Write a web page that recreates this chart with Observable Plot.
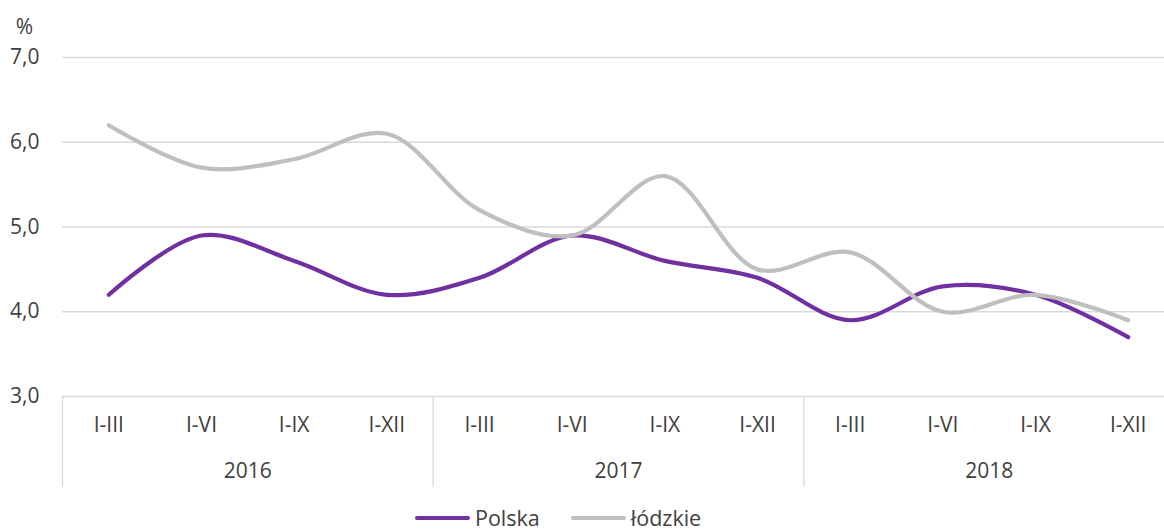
<!DOCTYPE html>
<html><head><meta charset="utf-8">
<script src="https://cdn.jsdelivr.net/npm/d3@7"></script>
<script src="https://cdn.jsdelivr.net/npm/@observablehq/plot@0.6"></script>
<style>
body{margin:0;background:#fff;font-family:"Open Sans",sans-serif;overflow:hidden;position:relative;width:1164px;height:531px}
#legend{position:absolute;left:415px;top:508px;display:flex;align-items:center;height:20px;line-height:20px;font-size:21.5px;color:#404040}
.sw{width:55px;height:4.5px;border-radius:2px;margin-right:5px}
.lab{margin-right:31px}
</style></head><body><div id="chart"></div><div id="legend"></div>
<script>
const years = ["2016", "2017", "2018"];
const quarters = ["I-III", "I-VI", "I-IX", "I-XII"];
const polska  = [4.2, 4.9, 4.6, 4.2, 4.4, 4.9, 4.6, 4.4, 3.9, 4.3, 4.2, 3.7];
const lodzkie = [6.2, 5.7, 5.8, 6.1, 5.2, 4.9, 5.6, 4.5, 4.7, 4.0, 4.2, 3.9];
const seriesNames = ["Polska", "łódzkie"];
const seriesColors = ["#7030A0", "#BFBFBF"];
const yTicks = [3, 4, 5, 6, 7];

const periods = years.flatMap((y, yi) => quarters.map((q, qi) => ({i: yi * quarters.length + qi, year: y, q})));
const yearData = years.map((y, yi) => ({year: y, c: yi * quarters.length + (quarters.length - 1) / 2}));
const bounds = years.map((y, yi) => yi * quarters.length - 0.5);
const data = [
  ...periods.map((p, k) => ({i: p.i, value: polska[k], series: seriesNames[0]})),
  ...periods.map((p, k) => ({i: p.i, value: lodzkie[k], series: seriesNames[1]}))
];

const FS = 21;
const chart = Plot.plot({
  width: 1164, height: 500,
  marginLeft: 62, marginRight: 0, marginTop: 57, marginBottom: 104,
  x: {type: "linear", domain: [-0.5, periods.length - 0.5], range: [62, 1174], axis: null},
  y: {domain: [3, 7], axis: null},
  color: {domain: seriesNames, range: seriesColors},
  style: {fontFamily: "'Open Sans', sans-serif", fontSize: FS + "px", color: "#404040", background: "#fff"},
  marks: [
    Plot.ruleY(yTicks, {stroke: "#d9d9d9", strokeWidth: 1.3}),
    Plot.axisY(yTicks, {label: null, tickSize: 0, tickPadding: 23, tickFormat: d => d.toFixed(1).replace(".", ","), fontSize: FS, fill: "#404040"}),
    Plot.text(["%"], {frameAnchor: "top-left", dx: -38, dy: -30, textAnchor: "middle", lineAnchor: "middle", fontSize: FS, fill: "#404040"}),
    Plot.ruleX(bounds, {x: d => d, y1: 3, y2: 3, insetBottom: -91, stroke: "#d9d9d9", strokeWidth: 1.3}),
    Plot.text(periods, {x: "i", text: "q", frameAnchor: "bottom", lineAnchor: "middle", dy: 29, fontSize: FS, fill: "#404040"}),
    Plot.text(yearData, {x: "c", text: "year", frameAnchor: "bottom", lineAnchor: "middle", dy: 75, fontSize: FS, fill: "#404040"}),
    Plot.line(data, {x: "i", y: "value", z: "series", stroke: "series", curve: "catmull-rom", strokeWidth: 4.2, strokeLinecap: "round", strokeLinejoin: "round"})
  ]
});
document.getElementById("chart").appendChild(chart);

const legend = document.getElementById("legend");
seriesNames.forEach((n, k) => {
  const sw = document.createElement("span"); sw.className = "sw"; sw.style.background = seriesColors[k];
  const lb = document.createElement("span"); lb.className = "lab"; lb.textContent = n;
  legend.appendChild(sw); legend.appendChild(lb);
});
</script></body></html>
